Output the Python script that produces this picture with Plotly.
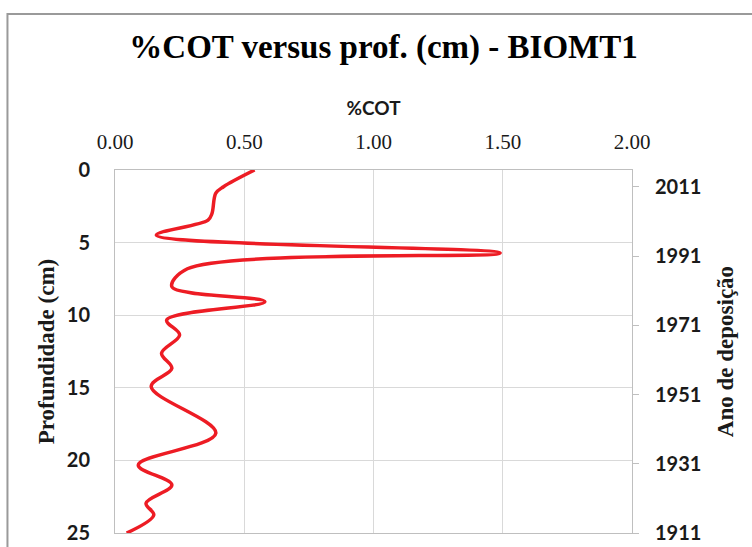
import plotly.graph_objects as go

# Depth profile of total organic carbon (%COT) for core BIOMT1
depth_cm = [0.0, 1.15, 1.6, 3.0, 3.45, 4.48, 5.72, 6.8, 8.04, 9.07, 10.33,
            11.36, 12.62, 13.66, 14.92, 18.13, 20.32, 21.69, 22.95, 23.76, 25.0]
cot_pct = [0.54, 0.42, 0.39, 0.375, 0.36, 0.16, 1.49, 0.28, 0.22, 0.58, 0.20,
           0.25, 0.18, 0.22, 0.14, 0.39, 0.09, 0.22, 0.12, 0.15, 0.045]

# Axis ticks
cot_ticks = [0.0, 0.5, 1.0, 1.5, 2.0]
depth_ticks = [0, 5, 10, 15, 20, 25]
year_ticks = [1911, 1931, 1951, 1971, 1991, 2011]
year_range = [1911, 2015.9]

SERIF = "Liberation Serif"
SANS = "Lato"
TXT = "#1a1a1a"
GRID = "#d9d9d9"
BORDER = "#bfbfbf"

fig = go.Figure()

fig.add_trace(go.Scatter(
    x=cot_pct, y=depth_cm, mode="lines",
    line=dict(color="#ed1c24", width=3.5, shape="spline", smoothing=1.0),
    showlegend=False, hoverinfo="skip",
))

# Empty trace that carries the deposition-year axis on the right
fig.add_trace(go.Scatter(x=[None], y=[None], yaxis="y2", mode="lines",
                         showlegend=False, hoverinfo="skip"))

fig.update_layout(
    width=752, height=547,
    margin=dict(l=115, r=120, t=170, b=14),
    paper_bgcolor="white", plot_bgcolor="white",
    title=dict(text="<b>%COT versus prof. (cm) - BIOMT1</b>",
               font=dict(family=SERIF, size=33, color="#000000"),
               x=0.51, xanchor="center", xref="container",
               y=0.915, yanchor="middle", yref="container"),
    xaxis=dict(
        side="top", range=[0, 2], tickvals=cot_ticks, tickformat=".2f",
        tickfont=dict(family=SERIF, size=21, color=TXT),
        ticklabelstandoff=12,
        title=dict(text="<b>%COT</b>", font=dict(family=SANS, size=19, color=TXT),
                   standoff=8),
        showgrid=True, gridcolor=GRID, gridwidth=1,
        showline=True, linecolor=BORDER, linewidth=1, mirror=True,
        zeroline=False, ticks="", automargin=False,
    ),
    yaxis=dict(
        range=[25, 0], tickvals=depth_ticks,
        tickfont=dict(family=SANS, size=20, color=TXT, weight="bold"),
        ticklabelstandoff=20,
        title=dict(text="<b>Profundidade (cm)</b>",
                   font=dict(family=SERIF, size=23, color=TXT), standoff=5),
        showgrid=True, gridcolor=GRID, gridwidth=1,
        showline=True, linecolor=BORDER, linewidth=1, mirror=True,
        zeroline=False, ticks="", automargin=False,
    ),
    yaxis2=dict(
        overlaying="y", side="right", range=year_range, tickvals=year_ticks,
        tickfont=dict(family=SANS, size=20, color=TXT, weight="bold"),
        ticks="outside", ticklen=6, tickcolor=BORDER, ticklabelstandoff=12,
        title=dict(text="<b>Ano de deposição</b>",
                   font=dict(family=SERIF, size=23, color=TXT), standoff=16),
        showgrid=False, zeroline=False, showline=False, automargin=False,
    ),
)

# Chart frame around the whole figure
fig.add_shape(type="rect", xref="paper", yref="paper",
              x0=-0.208, x1=1.6, y0=-0.3, y1=1.43,
              line=dict(color="#9a9a9a", width=2), fillcolor="rgba(0,0,0,0)",
              layer="below")

fig.write_html("out.html")
